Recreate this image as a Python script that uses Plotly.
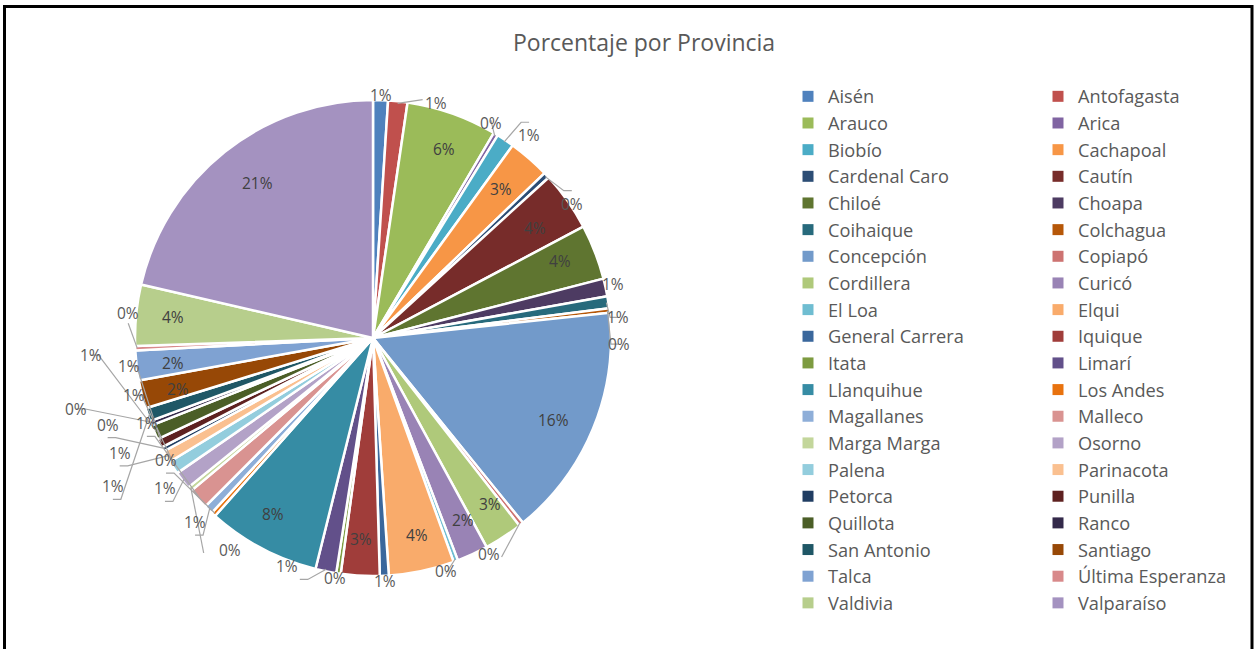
import math
import plotly.graph_objects as go

# ---------------- data ----------------
provincias = [
    "Aisén", "Antofagasta", "Arauco", "Arica", "Biobío", "Cachapoal",
    "Cardenal Caro", "Cautín", "Chiloé", "Choapa", "Coihaique", "Colchagua",
    "Concepción", "Copiapó", "Cordillera", "Curicó", "El Loa", "Elqui",
    "General Carrera", "Iquique", "Itata", "Limarí", "Llanquihue", "Los Andes",
    "Magallanes", "Malleco", "Marga Marga", "Osorno", "Palena", "Parinacota",
    "Petorca", "Punilla", "Quillota", "Ranco", "San Antonio", "Santiago",
    "Talca", "Última Esperanza", "Valdivia", "Valparaíso",
]
porcentajes = [
    1.0, 1.3, 6.1, 0.3, 1.2, 2.8,
    0.4, 4.0, 3.7, 1.2, 0.8, 0.3,
    15.7, 0.3, 2.6, 2.1, 0.3, 4.4,
    0.6, 2.6, 0.3, 1.4, 7.6, 0.3,
    0.6, 1.4, 0.3, 1.2, 0.9, 0.8,
    0.3, 0.6, 1.0, 0.3, 0.9, 1.9,
    2.0, 0.3, 4.1, 21.2,
]
colores = [
    "#4F81BD", "#C0504D", "#9BBB59", "#8064A2", "#4BACC6", "#F79646",
    "#2C4D75", "#772C2A", "#5F7530", "#4D3B62", "#276A7C", "#B65708",
    "#729ACA", "#CD7371", "#AFC97A", "#9983B5", "#6FBDD1", "#F9AB6B",
    "#3A679C", "#A03D3A", "#7D9B40", "#62508A", "#368CA4", "#E8720E",
    "#8EAED8", "#D99391", "#C3D69B", "#B3A2C7", "#93CDDD", "#FAC090",
    "#203D62", "#5E2120", "#4B5E27", "#33294A", "#1F5766", "#974806",
    "#7FA2D2", "#D8898A", "#B7CE8C", "#A492C0",
]
titulo = "Porcentaje por Provincia"

# ---------------- geometry ----------------
W, H = 1255, 649
ML, MR, MT, MB = 0, 500, 0, 0
PW, PH = W - ML - MR, H - MT - MB
CX, CY, R = 373, 338, 238
FONT = "Open Sans"
LBL = 15.5


def px(x, y):
    return ((x - ML) / PW, 1 - (y - MT) / PH)


total = sum(porcentajes)
pct = [v / total * 100 for v in porcentajes]
textos = [f"{round(p)}%" for p in pct]

fig = go.Figure(go.Pie(
    labels=provincias, values=porcentajes, sort=False, direction="clockwise",
    rotation=0, showlegend=False,
    marker=dict(colors=colores, line=dict(color="white", width=2.5)),
    textinfo="none", hoverinfo="label+percent",
    domain=dict(x=[(CX - R - ML) / PW, (CX + R - ML) / PW],
                y=[1 - (CY + R - MT) / PH, 1 - (CY - R - MT) / PH]),
))

# legend entries in two columns (row-major order, like the reference)
for i, (nombre, col) in enumerate(zip(provincias, colores)):
    fig.add_trace(go.Scatter(
        x=[None], y=[None], mode="markers", name=nombre,
        marker=dict(symbol="square", size=11, color=col, line=dict(width=0)),
        legend="legend" if i % 2 == 0 else "legend2", hoverinfo="skip",
    ))

annotations = []
shapes = []
boxes = []


def overlaps(b):
    for o in boxes:
        if not (b[2] + 14 < o[0] or o[2] + 14 < b[0] or b[3] + 7 < o[1] or o[3] + 7 < b[1]):
            return True
    return False


def clear_of_pie(b):
    nx = min(max(CX, b[0]), b[2])
    ny = min(max(CY, b[1]), b[3])
    return math.hypot(nx - CX, ny - CY) >= R + 5


cum = 0.0
for i, v in enumerate(porcentajes):
    th = (cum + v / 2) / total * 2 * math.pi
    cum += v
    s, c = math.sin(th), math.cos(th)
    if pct[i] >= 1.8:
        x, y = CX + 0.9 * R * s, CY - 0.9 * R * c
        xp, yp = px(x, y)
        annotations.append(dict(x=xp, y=yp, xref="paper", yref="paper", text=textos[i],
                                showarrow=False, font=dict(family=FONT, size=LBL, color="#404040")))
        continue
    w, h = 24, 18
    chosen = None
    for dr in [9, 26, 46, 68, 92, 118, 146, 176, 208, 240]:
        for dth in [0, -4, 4, -8, 8, -12, 12, -16, 16, -20, 20]:
            t2 = th + math.radians(dth)
            s2, c2 = math.sin(t2), math.cos(t2)
            r = R + dr
            bx = CX + r * s2 + s2 * w / 2
            by = CY - r * c2 - c2 * h / 2
            b = (bx - w / 2, by - h / 2, bx + w / 2, by + h / 2)
            if b[0] < 16 or b[2] > 780 or b[1] < 64 or b[3] > 640:
                continue
            if overlaps(b) or not clear_of_pie(b):
                continue
            chosen = (b, dr, dth, s2)
            break
        if chosen:
            break
    if chosen is None:
        continue
    b, dr, dth, s2 = chosen
    boxes.append(b)
    bx, by = (b[0] + b[2]) / 2, (b[1] + b[3]) / 2
    xp, yp = px(bx, by)
    annotations.append(dict(x=xp, y=yp, xref="paper", yref="paper", text=textos[i],
                            showarrow=False, font=dict(family=FONT, size=LBL, color="#595959")))
    if dr > 9 or dth != 0:
        x0, y0 = CX + (R - 2) * s, CY - (R - 2) * c
        pts = [(x0, y0)]
        if s2 < -0.3 and x0 > b[2] + 12:
            pts += [(b[2] + 9, by), (b[2] + 1, by)]
        elif s2 > 0.3 and x0 < b[0] - 12:
            pts += [(b[0] - 9, by), (b[0] - 1, by)]
        else:
            ye = b[3] + 1 if y0 > b[3] else (b[1] - 1 if y0 < b[1] else by)
            xe = bx if b[0] <= x0 <= b[2] else (b[2] + 1 if x0 > b[2] else b[0] - 1)
            pts.append((xe, ye))
        path = "M" + " L".join(f"{px(a, bb)[0]:.5f},{px(a, bb)[1]:.5f}" for a, bb in pts)
        shapes.append(dict(type="path", path=path, xref="paper", yref="paper",
                           line=dict(color="#A6A6A6", width=1.2)))

# chart border
bx0, by0 = px(4.5, 6.5)
bx1, by1 = px(1252, 660)
shapes.append(dict(type="rect", xref="paper", yref="paper", x0=bx0, y0=by1, x1=bx1, y1=by0,
                   line=dict(color="black", width=3), fillcolor="rgba(0,0,0,0)"))

tx, ty = px(644, 42)
annotations.append(dict(x=tx, y=ty, xref="paper", yref="paper", text=titulo, showarrow=False,
                        xanchor="center", yanchor="middle",
                        font=dict(family=FONT, size=23, color="#595959")))

l1x, l1y = px(788, 78)
l2x, _ = px(1038, 78)
legfont = dict(family=FONT, size=18.2, color="#595959")
fig.update_layout(
    width=W, height=H,
    margin=dict(l=ML, r=MR, t=MT, b=MB, autoexpand=False),
    paper_bgcolor="white", plot_bgcolor="white",
    xaxis=dict(visible=False), yaxis=dict(visible=False),
    showlegend=True,
    legend=dict(x=l1x, y=l1y, xanchor="left", yanchor="top", traceorder="normal",
                font=legfont, bgcolor="rgba(0,0,0,0)"),
    legend2=dict(x=l2x, y=l1y, xanchor="left", yanchor="top", traceorder="normal",
                 font=legfont, bgcolor="rgba(0,0,0,0)"),
    annotations=annotations,
    shapes=shapes,
)

fig.write_html("out.html", config={"displayModeBar": False},
               post_script="document.body.style.margin='0px';")
